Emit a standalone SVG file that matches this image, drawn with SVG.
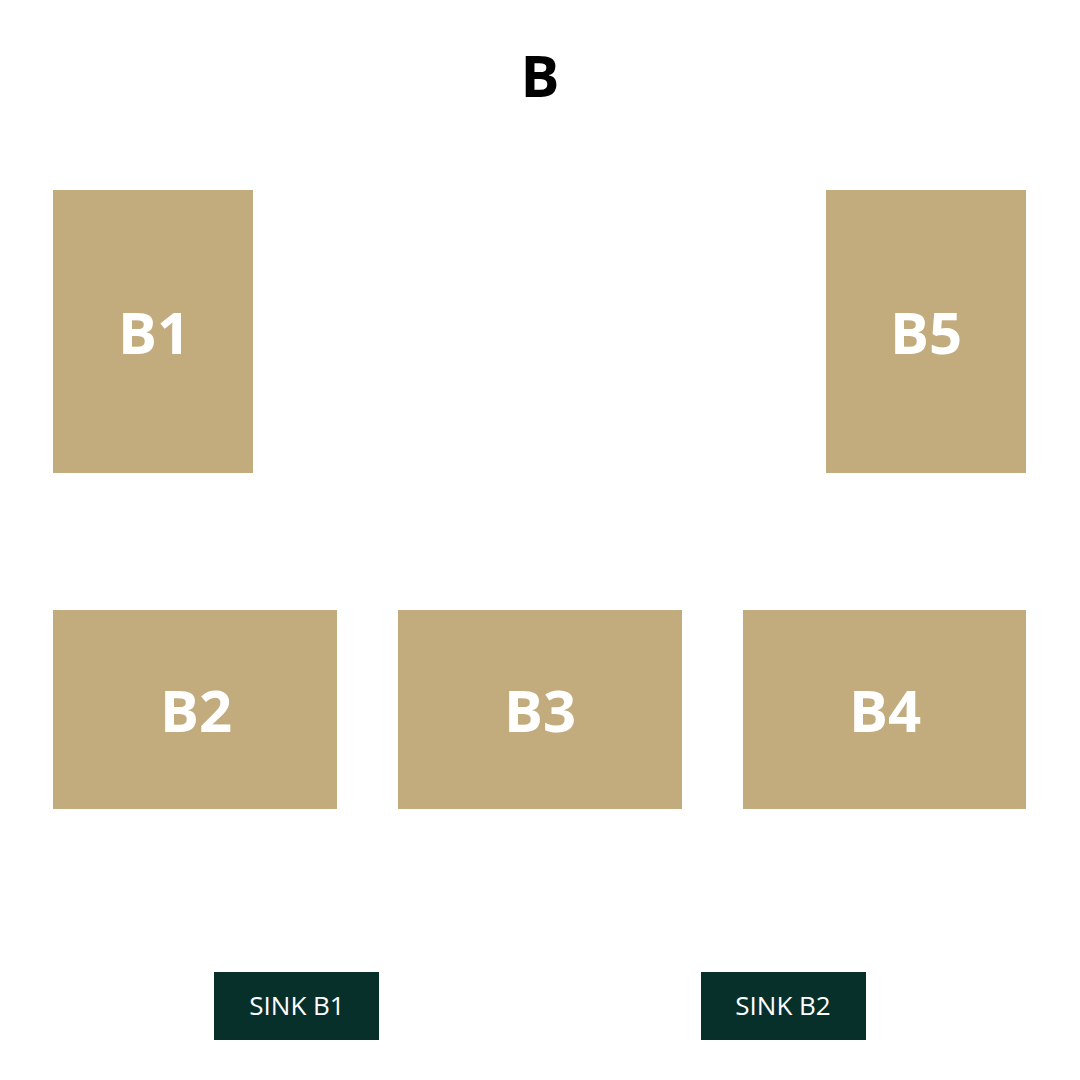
<svg xmlns="http://www.w3.org/2000/svg" width="1080" height="1080" viewBox="0 0 1080 1080">
<style>
.tbl{fill:#C2AB7D}
.sink{fill:#08302B}
.lbl{font-family:"Open Sans","Liberation Sans",sans-serif;font-weight:700;font-size:58px;fill:#FFFFFF;text-anchor:middle}
.slbl{font-family:"Open Sans","Liberation Sans",sans-serif;font-size:26px;fill:#FFFFFF;text-anchor:middle}
.title{font-family:"Open Sans","Liberation Sans",sans-serif;font-weight:700;font-size:58px;fill:#000000;text-anchor:middle}
</style>
<rect width="1080" height="1080" fill="#FFFFFF"/>
<text class="title" x="540" y="97">B</text>
<g id="B1"><rect class="tbl" x="53" y="190" width="200" height="283"/><text class="lbl" x="154" y="354">B1</text></g>
<g id="B5"><rect class="tbl" x="826" y="190" width="200" height="283"/><text class="lbl" x="926" y="354">B5</text></g>
<g id="B2"><rect class="tbl" x="53" y="610" width="284" height="199"/><text class="lbl" x="196" y="732">B2</text></g>
<g id="B3"><rect class="tbl" x="398" y="610" width="284" height="199"/><text class="lbl" x="540" y="732">B3</text></g>
<g id="B4"><rect class="tbl" x="743" y="610" width="283" height="199"/><text class="lbl" x="885" y="732">B4</text></g>
<g id="SINK_B1"><rect class="sink" x="214" y="972" width="165" height="68"/><text class="slbl" x="297" y="1015">SINK B1</text></g>
<g id="SINK_B2"><rect class="sink" x="701" y="972" width="165" height="68"/><text class="slbl" x="783" y="1015">SINK B2</text></g>
<g id="connectors"></g>
</svg>
